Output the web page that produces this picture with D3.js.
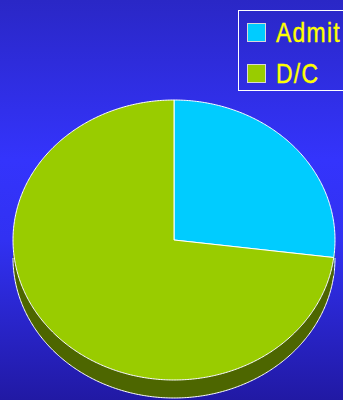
<!DOCTYPE html>
<html>
<head>
<meta charset="utf-8">
<script src="https://cdn.jsdelivr.net/npm/d3@7"></script>
<style>
  html, body { margin: 0; padding: 0; overflow: hidden; }
  svg { display: block; }
</style>
</head>
<body>
<svg id="chart" width="343" height="400"></svg>
<script>
// Admissions vs discharges
const categories = ["Admit", "D/C"];
const values = [27, 73];
const colors = ["#00CCFF", "#99CC00"];
const sideColors = ["#006680", "#4D6600"];

const W = 343, H = 400;
const svg = d3.select("#chart");

// background: vertical blue gradient
const defs = svg.append("defs");
const grad = defs.append("linearGradient")
  .attr("id", "bg").attr("x1", 0).attr("y1", 0).attr("x2", 0).attr("y2", 1);
grad.append("stop").attr("offset", "0%").attr("stop-color", "#2A27C6");
grad.append("stop").attr("offset", "40%").attr("stop-color", "#3434FC");
grad.append("stop").attr("offset", "60%").attr("stop-color", "#3131F2");
grad.append("stop").attr("offset", "100%").attr("stop-color", "#2119A4");
svg.append("rect").attr("width", W).attr("height", H).attr("fill", "url(#bg)");

// tilted pie geometry
const cx = 174, cy = 240, rx = 161, ry = 140, depth = 18;

const pie = d3.pie().sort(null).startAngle(0).endAngle(2 * Math.PI);
const arcs = pie(values);

// angle measured clockwise from 12 o'clock -> point on the ellipse
const ex = a => cx + rx * Math.sin(a);
const ey = a => cy - ry * Math.cos(a);

function arcPoints(a0, a1, dy) {
  const n = Math.max(2, Math.ceil(Math.abs(a1 - a0) / 0.01));
  const pts = [];
  for (let i = 0; i <= n; i++) {
    const a = a0 + (a1 - a0) * i / n;
    pts.push([ex(a), ey(a) + dy]);
  }
  return pts;
}

// side walls (only the front half, angles between 90deg and 270deg, faces the viewer)
const lo = Math.PI / 2, hi = 3 * Math.PI / 2;
const sides = svg.append("g");
arcs.forEach((d, i) => {
  const a0 = Math.max(d.startAngle, lo), a1 = Math.min(d.endAngle, hi);
  if (a1 <= a0) return;
  const top = arcPoints(a0, a1, 0);
  const bottom = arcPoints(a1, a0, depth);
  const p = d3.path();
  top.forEach((pt, k) => k ? p.lineTo(pt[0], pt[1]) : p.moveTo(pt[0], pt[1]));
  bottom.forEach(pt => p.lineTo(pt[0], pt[1]));
  p.closePath();
  sides.append("path").attr("d", p.toString())
    .attr("fill", sideColors[i]).attr("stroke", "none");
  // outline along the lower rim
  const rim = d3.line()(arcPoints(a0, a1, depth));
  sides.append("path").attr("d", rim)
    .attr("fill", "none").attr("stroke", "#FFFFFF").attr("stroke-width", 1);
});

// top faces
const tops = svg.append("g");
arcs.forEach((d, i) => {
  const p = d3.path();
  p.moveTo(cx, cy);
  arcPoints(d.startAngle, d.endAngle, 0).forEach(pt => p.lineTo(pt[0], pt[1]));
  p.closePath();
  tops.append("path").attr("d", p.toString())
    .attr("fill", colors[i])
    .attr("stroke", "#FFFFFF").attr("stroke-width", 1)
    .attr("stroke-linejoin", "round");
});

// legend
const legend = svg.append("g");
legend.append("rect")
  .attr("x", 238.5).attr("y", 10.5).attr("width", 120).attr("height", 80)
  .attr("fill", "none").attr("stroke", "#FFFFFF").attr("stroke-width", 1);
const rowY = d3.scalePoint().domain(categories).range([33, 74]);
categories.forEach((c, i) => {
  const y = rowY(c);
  legend.append("rect")
    .attr("x", 247.5).attr("y", y - 9.5).attr("width", 18).attr("height", 18)
    .attr("fill", colors[i]).attr("stroke", "#D8D8D8").attr("stroke-width", 1);
  // condensed label face
  legend.append("text")
    .attr("transform", `translate(276,${y + 9}) scale(0.82,1)`)
    .attr("fill", "#FFFF00")
    .attr("stroke", "#FFFF00").attr("stroke-width", 0.4)
    .attr("font-family", "'Liberation Sans', Arial, sans-serif")
    .attr("font-size", 28)
    .attr("letter-spacing", 1.5)
    .text(c);
});
</script>
</body>
</html>
